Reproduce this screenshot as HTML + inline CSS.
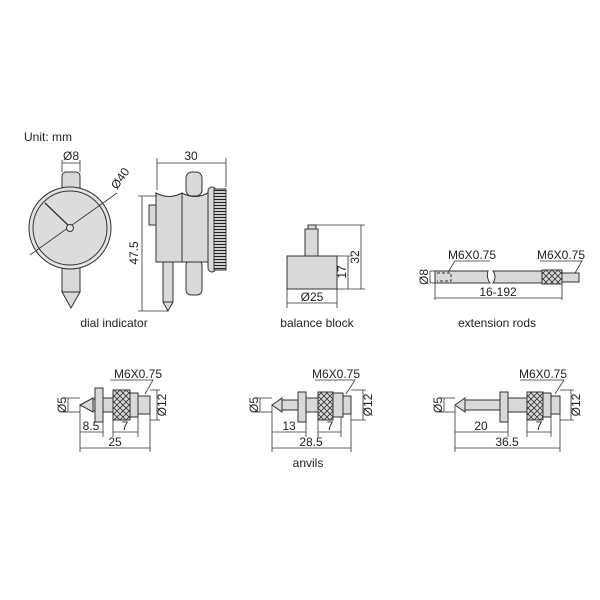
<!DOCTYPE html>
<html><head><meta charset="utf-8"><style>
html,body{margin:0;padding:0;background:#fff;}
svg{display:block;font-family:"Liberation Sans",sans-serif;}
</style></head><body>
<svg width="600" height="600" viewBox="0 0 600 600" xmlns="http://www.w3.org/2000/svg">
<defs>
<pattern id="kn" width="6" height="6" patternUnits="userSpaceOnUse">
<rect width="6" height="6" fill="#d8d8d8"/>
<path d="M0 0L6 6M6 0L0 6" stroke="#333" stroke-width="0.8"/>
</pattern>
<pattern id="kv" width="4" height="3" patternUnits="userSpaceOnUse">
<rect width="4" height="3" fill="#d0d0d0"/>
<path d="M0 1.5H4" stroke="#222" stroke-width="1"/>
</pattern>
</defs>
<g stroke="#333" stroke-width="1" fill="#d9d9d9">
<rect x="62" y="172" width="18" height="22" rx="4"/>
<rect x="62" y="262" width="18" height="30"/>
<path d="M62 292 L80 292 L71 308 Z"/>
<circle cx="70" cy="228" r="41" fill="#e3e3e3"/>
<circle cx="70" cy="228" r="37" fill="#dcdcdc"/>
<path d="M45 203 L70 227" fill="none" stroke-width="1.3"/>
<path d="M30 255 L117 193" fill="none" stroke-width="0.8"/>
<circle cx="70" cy="228" r="3.5" fill="#e3e3e3"/>
<path d="M62 172V160M80 172V160M62 163H80" fill="none" stroke-width="0.8"/>
<rect x="186" y="172" width="16" height="24" rx="6"/>
<rect x="186" y="260" width="16" height="35" rx="5"/>
<rect x="163" y="262" width="10" height="40"/>
<path d="M163 302 L173 302 L168 311 Z"/>
<rect x="149" y="205" width="8" height="20"/>
<path d="M156 193 Q169 200 182 193 Q195 200 208 193 V262 H156 Z"/>
<path d="M182 193 V262"/>
<rect x="208" y="187" width="8" height="85" rx="4"/>
<rect x="214" y="189" width="12" height="81" fill="url(#kv)"/>
<path d="M157 190V158M226 187V158M157 163H226" fill="none" stroke-width="0.8"/>
<path d="M142 196V311M138 196H157M138 311H168" fill="none" stroke-width="0.8"/>
<rect x="308" y="225" width="8" height="5"/>
<rect x="305" y="229" width="13" height="27"/>
<rect x="287" y="256" width="50" height="33"/>
<path d="M337 256H352M348 256V289M337 289H365M316 225H365M361 225V289M287 289V308M337 289V308M287 303H337" fill="none" stroke-width="0.8"/>
<path d="M435 271H488Q486 277 490 283H435Z"/>
<path d="M493 271H542V283H493Q497 277 493 271Z"/>
<path d="M437 273H451V281H437" fill="none" stroke-dasharray="3,2"/>
<rect x="542" y="270" width="20" height="14" fill="url(#kn)"/>
<rect x="562" y="273" width="17" height="9"/>
<path d="M435 271V300M562 284V300M435 298H562M430 271H435M430 283H435M430 271V283" fill="none" stroke-width="0.8"/>
<path d="M448 272L455 261H490M575 273L582 261H540" fill="none" stroke-width="0.8"/>
<path d="M80 405L93 398V412Z"/>
<rect x="93" y="399" width="2" height="12"/>
<rect x="95" y="388" width="8" height="34"/>
<rect x="103" y="398" width="10" height="14"/>
<rect x="113" y="390" width="17" height="30" fill="url(#kn)"/>
<rect x="130" y="393" width="8" height="24"/>
<rect x="138" y="396" width="12" height="18"/>
<path d="M68 398V412M62 398H80M62 412H80M150 390H160M150 420H160M157 390V420M80 405V452M103 422V437M113 420V437M138 417V437M150 414V452M80 432H103M113 432H138M80 448H150M145 394L153 380H110" fill="none" stroke-width="0.8"/>
<path d="M272 405L282 398V412Z"/>
<rect x="282" y="400" width="16" height="10"/>
<rect x="298" y="392" width="8" height="30"/>
<rect x="306" y="398" width="12" height="14"/>
<rect x="318" y="392" width="15" height="28" fill="url(#kn)"/>
<rect x="333" y="393" width="10" height="24"/>
<rect x="343" y="396" width="8" height="18"/>
<path d="M260 398V412M254 398H272M254 412H272M351 390H366M351 420H366M363 390V420M272 405V452M306 422V437M318 420V437M341 417V437M351 414V452M272 432H306M318 432H341M272 448H351M346 394L355 380H315" fill="none" stroke-width="0.8"/>
<path d="M455 405L465 398V412Z"/>
<rect x="465" y="400" width="35" height="10"/>
<rect x="500" y="392" width="8" height="30"/>
<rect x="508" y="398" width="19" height="14"/>
<rect x="527" y="392" width="16" height="28" fill="url(#kn)"/>
<rect x="543" y="393" width="8" height="24"/>
<rect x="551" y="396" width="9" height="18"/>
<path d="M444 398V412M438 398H455M438 412H455M560 390H574M560 420H574M571 390V420M455 405V452M508 422V437M527 420V437M551 417V437M560 414V452M455 432H508M527 432H551M455 448H560M555 394L564 380H520" fill="none" stroke-width="0.8"/>
</g>
<g fill="#222" font-size="12">
<text x="24" y="141">Unit: mm</text>
<text x="71" y="160" text-anchor="middle">Ø8</text>
<text transform="translate(117,190) rotate(-55)" text-anchor="start">Ø40</text>
<text x="191" y="160" text-anchor="middle">30</text>
<text transform="translate(138,253) rotate(-90)" text-anchor="middle">47.5</text>
<text x="114" y="327" text-anchor="middle">dial indicator</text>
<text transform="translate(346,272) rotate(-90)" text-anchor="middle">17</text>
<text transform="translate(359,257) rotate(-90)" text-anchor="middle">32</text>
<text x="312" y="301" text-anchor="middle">Ø25</text>
<text x="317" y="327" text-anchor="middle">balance block</text>
<text x="472" y="259" text-anchor="middle">M6X0.75</text>
<text x="561" y="259" text-anchor="middle">M6X0.75</text>
<text transform="translate(428,277) rotate(-90)" text-anchor="middle">Ø8</text>
<text x="498" y="296" text-anchor="middle">16-192</text>
<text x="497" y="327" text-anchor="middle">extension rods</text>
<text x="138" y="378" text-anchor="middle">M6X0.75</text>
<text x="91" y="430" text-anchor="middle">8.5</text>
<text x="125" y="430" text-anchor="middle">7</text>
<text x="115" y="446" text-anchor="middle">25</text>
<text transform="translate(66,405) rotate(-90)" text-anchor="middle">Ø5</text>
<text transform="translate(166,405) rotate(-90)" text-anchor="middle">Ø12</text>
<text x="336" y="378" text-anchor="middle">M6X0.75</text>
<text x="289" y="430" text-anchor="middle">13</text>
<text x="330" y="430" text-anchor="middle">7</text>
<text x="311" y="446" text-anchor="middle">28.5</text>
<text transform="translate(258,405) rotate(-90)" text-anchor="middle">Ø5</text>
<text transform="translate(372,405) rotate(-90)" text-anchor="middle">Ø12</text>
<text x="308" y="467" text-anchor="middle">anvils</text>
<text x="543" y="378" text-anchor="middle">M6X0.75</text>
<text x="481" y="430" text-anchor="middle">20</text>
<text x="539" y="430" text-anchor="middle">7</text>
<text x="507" y="446" text-anchor="middle">36.5</text>
<text transform="translate(442,405) rotate(-90)" text-anchor="middle">Ø5</text>
<text transform="translate(580,405) rotate(-90)" text-anchor="middle">Ø12</text>
</g>
</svg>
</body></html>
